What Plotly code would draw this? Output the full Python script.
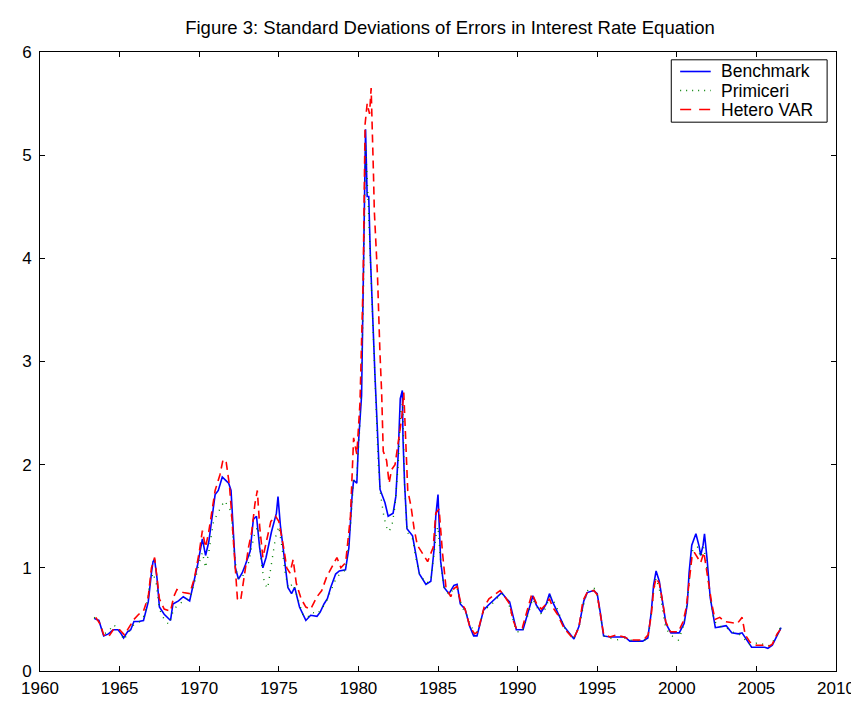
import plotly.graph_objects as go

title_text = "Figure 3: Standard Deviations of Errors in Interest Rate Equation"
series_names = ["Benchmark", "Primiceri", "Hetero VAR"]
series_colors = ["#0000ff", "#008000", "#ff0000"]
series_dash = ["solid", "1px,6px", "8px,5px"]
x_ticks = [1960, 1965, 1970, 1975, 1980, 1985, 1990, 1995, 2000, 2005, 2010]
y_ticks = [0, 1, 2, 3, 4, 5, 6]

bench_t = [1963.4, 1963.7, 1964.0, 1964.3, 1964.6, 1964.9, 1965.1, 1965.25, 1965.5, 1965.7, 1965.9,
           1966.2, 1966.5, 1966.8, 1967.0, 1967.1, 1967.2, 1967.35, 1967.5, 1967.8, 1968.2, 1968.35,
           1968.7, 1969.0, 1969.4, 1969.6, 1969.9, 1970.2, 1970.4, 1970.6, 1970.8, 1971.0, 1971.2,
           1971.45, 1971.65, 1971.85, 1972.0, 1972.15, 1972.27, 1972.47, 1972.7, 1972.9, 1973.2,
           1973.4, 1973.6, 1973.8, 1974.0, 1974.2, 1974.54, 1974.85, 1974.95, 1975.1, 1975.36,
           1975.57, 1975.8, 1976.0, 1976.3, 1976.7, 1977.0, 1977.4, 1977.6, 1977.84, 1978.05,
           1978.26, 1978.57, 1978.8, 1979.19, 1979.4, 1979.6, 1979.7, 1979.9, 1980.0, 1980.2,
           1980.3, 1980.38, 1980.45, 1980.55, 1980.65, 1980.75, 1980.84, 1980.94, 1981.05, 1981.25,
           1981.36, 1981.67, 1981.87, 1982.18, 1982.35, 1982.5, 1982.63, 1982.76, 1982.8, 1982.9,
           1983.05, 1983.4, 1983.6, 1983.83, 1984.24, 1984.55, 1984.76, 1984.86, 1985.0, 1985.07,
           1985.17, 1985.38, 1985.69, 1986.0, 1986.2, 1986.4, 1986.7, 1987.0, 1987.24, 1987.45,
           1987.65, 1987.86, 1988.17, 1988.58, 1989.0, 1989.3, 1989.5, 1989.72, 1989.92, 1990.34,
           1990.65, 1990.96, 1991.17, 1991.48, 1991.8, 1992.0, 1992.2, 1992.5, 1992.93, 1993.54,
           1993.85, 1994.16, 1994.37, 1994.78, 1995.0, 1995.2, 1995.4, 1995.8, 1996.2, 1996.74,
           1997.05, 1997.86, 1998.18, 1998.39, 1998.54, 1998.7, 1998.9, 1999.1, 1999.32, 1999.63,
           2000.15, 2000.46, 2000.66, 2000.77, 2000.94, 2001.08, 2001.2, 2001.4, 2001.5, 2001.65,
           2001.74, 2001.9, 2002.1, 2002.3, 2002.42, 2002.8, 2003.1, 2003.45, 2003.87, 2004.1,
           2004.5, 2004.7, 2005.52, 2005.72, 2006.0, 2006.34, 2006.55]
bench_v = [0.51, 0.49, 0.34, 0.36, 0.40, 0.40, 0.36, 0.32, 0.38, 0.40, 0.48,
           0.48, 0.49, 0.67, 0.95, 1.06, 1.08, 0.90, 0.62, 0.55, 0.49, 0.65,
           0.68, 0.72, 0.68, 0.81, 1.03, 1.28, 1.12, 1.25, 1.50, 1.71, 1.75,
           1.88, 1.85, 1.82, 1.75, 1.30, 1.00, 0.89, 0.95, 1.03, 1.16,
           1.47, 1.50, 1.19, 1.00, 1.10, 1.35, 1.53, 1.69, 1.41, 1.10,
           0.81, 0.75, 0.81, 0.62, 0.49, 0.54, 0.53, 0.57, 0.65, 0.70,
           0.81, 0.94, 0.97, 0.98, 1.19, 1.69, 1.85, 1.82, 2.20, 2.67,
           3.58, 4.60, 5.25, 4.60, 4.60, 4.03, 3.58, 3.27, 2.83, 2.13,
           1.76, 1.63, 1.50, 1.53, 1.69, 2.10, 2.64, 2.72, 2.26, 1.82,
           1.38, 1.31, 1.12, 0.94, 0.84, 0.87, 1.19, 1.50, 1.71, 1.44,
           1.06, 0.81, 0.75, 0.83, 0.84, 0.65, 0.60, 0.43, 0.34, 0.34,
           0.46, 0.59, 0.64, 0.70, 0.76, 0.70, 0.67, 0.53, 0.40, 0.40,
           0.56, 0.73, 0.64, 0.57, 0.65, 0.75, 0.67, 0.57, 0.43, 0.31,
           0.43, 0.68, 0.76, 0.78, 0.75, 0.56, 0.34, 0.33, 0.33, 0.33,
           0.29, 0.29, 0.32, 0.56, 0.83, 0.97, 0.87, 0.65, 0.46, 0.37,
           0.37, 0.46, 0.65, 0.95, 1.22, 1.28, 1.33, 1.21, 1.12, 1.22,
           1.33, 1.09, 0.71, 0.53, 0.42, 0.43, 0.44, 0.37, 0.36, 0.37,
           0.27, 0.23, 0.23, 0.22, 0.25, 0.35, 0.42]

prim_t = [1963.4, 1963.7, 1964.0, 1964.3, 1964.6, 1965.0, 1965.25, 1965.6, 1965.9, 1966.3, 1966.6,
          1966.9, 1967.1, 1967.3, 1967.5, 1967.8, 1968.1, 1968.4, 1968.8, 1969.0, 1969.4, 1969.7,
          1970.0, 1970.2, 1970.4, 1970.6, 1970.9, 1971.2, 1971.4, 1971.6, 1971.8, 1972.0, 1972.2,
          1972.4, 1972.7, 1972.9, 1973.1, 1973.3, 1973.5, 1973.7, 1973.9, 1974.1, 1974.3, 1974.5,
          1974.8, 1975.0, 1975.2, 1975.4, 1975.6, 1975.9, 1976.2, 1976.5, 1976.8, 1977.1, 1977.4,
          1977.7, 1978.0, 1978.3, 1978.6, 1978.9, 1979.2, 1979.5, 1979.7, 1979.9, 1980.1, 1980.3,
          1980.45, 1980.6, 1980.75, 1980.9, 1981.05, 1981.25, 1981.4, 1981.6, 1981.75, 1981.9,
          1982.1, 1982.3, 1982.5, 1982.65, 1982.78, 1982.9, 1983.05, 1983.4, 1983.6, 1983.83,
          1984.24, 1984.55, 1984.76, 1984.9, 1985.0, 1985.2, 1985.4, 1985.7, 1986.0, 1986.2,
          1986.5, 1986.8, 1987.0, 1987.3, 1987.5, 1987.7, 1987.9, 1988.2, 1988.6, 1989.0, 1989.4,
          1989.7, 1989.95, 1990.3, 1990.6, 1990.95, 1991.2, 1991.5, 1991.8, 1992.0, 1992.2,
          1992.5, 1992.9, 1993.5, 1993.85, 1994.2, 1994.4, 1994.8, 1995.0, 1995.2, 1995.4, 1995.8,
          1996.2, 1996.7, 1997.1, 1997.9, 1998.2, 1998.4, 1998.55, 1998.7, 1998.9, 1999.1, 1999.3,
          1999.6, 2000.1, 2000.4, 2000.6, 2000.8, 2000.95, 2001.1, 2001.3, 2001.5, 2001.7, 2001.85,
          2002.1, 2002.3, 2002.5, 2002.8, 2003.1, 2003.45, 2003.9, 2004.2, 2004.5, 2004.8, 2005.2,
          2005.6, 2005.9, 2006.3, 2006.5]
prim_v = [0.52, 0.48, 0.36, 0.38, 0.45, 0.40, 0.30, 0.38, 0.45, 0.48, 0.55,
          0.85, 0.95, 0.85, 0.60, 0.50, 0.45, 0.60, 0.65, 0.68, 0.70, 0.85,
          1.05, 1.15, 1.00, 1.15, 1.45, 1.55, 1.60, 1.65, 1.60, 1.55, 1.15,
          0.90, 0.90, 1.00, 1.05, 1.20, 1.35, 1.40, 1.05, 0.85, 0.80, 1.00,
          1.30, 1.40, 1.20, 0.95, 0.80, 0.85, 0.70, 0.55, 0.52, 0.57, 0.55,
          0.60, 0.68, 0.80, 0.90, 0.95, 0.98, 1.40, 1.85, 1.90, 2.40, 3.50,
          5.10, 4.60, 4.00, 3.50, 2.75, 2.00, 1.70, 1.50, 1.40, 1.35,
          1.40, 1.60, 2.00, 2.50, 2.60, 1.80, 1.35, 1.28, 1.10, 0.95,
          0.85, 0.88, 1.15, 1.35, 1.40, 1.00, 0.80, 0.74, 0.80, 0.80,
          0.62, 0.55, 0.45, 0.38, 0.38, 0.48, 0.60, 0.62, 0.68, 0.75, 0.68,
          0.50, 0.38, 0.38, 0.52, 0.70, 0.62, 0.55, 0.62, 0.72, 0.70,
          0.60, 0.43, 0.32, 0.42, 0.68, 0.78, 0.80, 0.74, 0.55, 0.34, 0.32,
          0.30, 0.32, 0.30, 0.29, 0.32, 0.55, 0.78, 0.90, 0.80, 0.60, 0.42,
          0.35, 0.30, 0.42, 0.60, 0.90, 1.15, 1.20, 1.20, 1.10, 1.20, 1.05,
          0.70, 0.52, 0.45, 0.43, 0.42, 0.38, 0.36, 0.32, 0.26, 0.26, 0.28,
          0.24, 0.25, 0.35, 0.42]

hetero_t = [1963.5, 1963.8, 1964.0, 1964.3, 1964.6, 1965.0, 1965.3, 1965.6, 1965.9, 1966.2, 1966.5,
            1966.8, 1967.0, 1967.2, 1967.5, 1967.8, 1968.2, 1968.4, 1968.6, 1969.0, 1969.4, 1969.7,
            1970.0, 1970.2, 1970.4, 1970.6, 1970.8, 1971.0, 1971.3, 1971.5, 1971.7, 1971.9, 1972.0,
            1972.2, 1972.4, 1972.6, 1972.8, 1973.1, 1973.3, 1973.5, 1973.65, 1973.8, 1974.0, 1974.2,
            1974.5, 1974.8, 1975.0, 1975.3, 1975.5, 1975.7, 1975.9, 1976.1, 1976.4, 1976.7, 1977.0,
            1977.4, 1977.7, 1978.0, 1978.3, 1978.65, 1978.9, 1979.2, 1979.5, 1979.7, 1979.9, 1980.1,
            1980.3, 1980.42, 1980.55, 1980.7, 1980.8, 1980.9, 1980.95, 1981.0, 1981.1, 1981.2,
            1981.35, 1981.46, 1981.56, 1981.77, 1981.93, 1982.08, 1982.3, 1982.6, 1982.72, 1982.85,
            1982.98, 1983.1, 1983.3, 1983.5, 1983.7, 1983.9, 1984.35, 1984.7, 1984.86, 1985.07,
            1985.28, 1985.5, 1985.8, 1986.0, 1986.2, 1986.4, 1986.7, 1987.0, 1987.3, 1987.5, 1987.7,
            1987.9, 1988.2, 1988.6, 1988.9, 1989.2, 1989.5, 1989.7, 1989.9, 1990.3, 1990.6, 1990.9,
            1991.2, 1991.5, 1991.8, 1992.0, 1992.2, 1992.5, 1992.9, 1993.5, 1993.85, 1994.1, 1994.4,
            1994.8, 1995.0, 1995.2, 1995.4, 1995.8, 1996.2, 1996.7, 1997.1, 1997.9, 1998.2, 1998.4,
            1998.55, 1998.7, 1998.9, 1999.1, 1999.3, 1999.6, 2000.1, 2000.4, 2000.6, 2000.8, 2000.95,
            2001.1, 2001.3, 2001.5, 2001.7, 2001.85, 2002.0, 2002.2, 2002.4, 2002.7, 2003.0, 2003.4,
            2003.8, 2004.0, 2004.1, 2004.3, 2004.6, 2005.0, 2005.5, 2005.8, 2006.0, 2006.3, 2006.5]
hetero_v = [0.52, 0.45, 0.35, 0.33, 0.40, 0.40, 0.35, 0.42, 0.50, 0.55, 0.58,
            0.72, 1.00, 1.10, 0.70, 0.60, 0.58, 0.72, 0.79, 0.76, 0.75, 0.90,
            1.15, 1.36, 1.20, 1.35, 1.55, 1.75, 1.90, 2.05, 2.02, 1.80, 1.60,
            1.10, 0.70, 0.68, 0.90, 1.20, 1.35, 1.62, 1.75, 1.40, 1.10, 1.25,
            1.45, 1.50, 1.45, 1.20, 1.00, 0.95, 1.08, 0.85, 0.70, 0.62, 0.60,
            0.72, 0.78, 0.91, 1.00, 1.10, 1.00, 1.05, 1.50, 2.26, 2.10, 2.60,
            3.80, 5.30, 5.50, 5.40, 5.65, 5.20, 4.80, 4.46, 4.20, 3.83,
            3.10, 2.70, 2.13, 2.04, 1.82, 1.95, 2.00, 2.32, 2.45, 2.70,
            2.23, 1.75, 1.60, 1.38, 1.22, 1.17, 1.06, 1.20, 1.53, 1.57,
            1.15, 0.81, 0.72, 0.80, 0.82, 0.68, 0.60, 0.43, 0.36, 0.38, 0.50,
            0.62, 0.70, 0.75, 0.78, 0.72, 0.65, 0.50, 0.42, 0.42, 0.58, 0.75,
            0.65, 0.60, 0.65, 0.70, 0.62, 0.55, 0.42, 0.31, 0.42, 0.68, 0.77,
            0.78, 0.74, 0.55, 0.36, 0.33, 0.35, 0.33, 0.30, 0.30, 0.35, 0.55,
            0.80, 0.90, 0.85, 0.68, 0.48, 0.38, 0.38, 0.48, 0.62, 0.90, 1.10,
            1.15, 1.10, 1.05, 1.15, 1.02, 0.85, 0.65, 0.50, 0.52, 0.48, 0.47,
            0.46, 0.50, 0.52, 0.35, 0.28, 0.25, 0.25, 0.24, 0.26, 0.36, 0.40]

FONT = "Liberation Sans, Arial, sans-serif"

# plot-area geometry in pixels (used only for layout of the hand-made legend)
W, H = 859, 702
L, R, T, B = 32, 20, 44, 23
PW, PH = W - L - R, H - T - B


def px_x(px):
    return (px - L) / PW


def px_y(py):
    return (H - B - py) / PH


fig = go.Figure()
for name, t, v, c, d in zip(series_names, [bench_t, prim_t, hetero_t],
                            [bench_v, prim_v, hetero_v], series_colors, series_dash):
    fig.add_trace(go.Scatter(x=t, y=v, mode="lines", name=name, showlegend=False,
                             line=dict(color=c, width=1.6 if name != "Primiceri" else 1.4, dash=d)))

axis_common = dict(showline=True, linecolor="black", linewidth=1, mirror="ticks",
                   ticks="inside", ticklen=5, tickcolor="black", showgrid=False,
                   zeroline=False, tickfont=dict(family=FONT, size=17, color="black"))
fig.update_xaxes(range=[1960, 2010], tickvals=x_ticks, ticktext=[str(v) for v in x_ticks],
                 ticklabelstandoff=2, **axis_common)
fig.update_yaxes(range=[0, 6], tickvals=y_ticks, ticktext=[str(v) for v in y_ticks],
                 ticklabelstandoff=4, **axis_common)

# legend drawn as box + samples + labels
shapes = [dict(type="rect", xref="paper", yref="paper",
               x0=px_x(672), x1=px_x(830), y0=px_y(116), y1=px_y(52),
               line=dict(color="black", width=1), fillcolor="white", layer="above")]
annotations = []
row_y = [64, 83.5, 103]
for name, c, d, ry in zip(series_names, series_colors, ["solid", "1px,5px", "11px,8px"], row_y):
    shapes.append(dict(type="line", xref="paper", yref="paper",
                       x0=px_x(681), x1=px_x(712), y0=px_y(ry), y1=px_y(ry),
                       line=dict(color=c, width=1.6, dash=d), layer="above"))
    annotations.append(dict(text=name, xref="paper", yref="paper",
                            x=px_x(720), y=px_y(ry), xanchor="left", yanchor="middle",
                            showarrow=False, font=dict(family=FONT, size=17.5, color="black")))

fig.update_layout(
    width=W, height=H,
    margin=dict(l=L, r=R, t=T, b=B),
    paper_bgcolor="white", plot_bgcolor="white",
    title=dict(text=title_text, x=442 / W, xref="container", xanchor="center",
               y=1 - 20 / H, yanchor="middle",
               font=dict(family=FONT, size=18.5, color="black")),
    showlegend=False,
    shapes=shapes,
    annotations=annotations,
)

fig.write_html("out.html")
